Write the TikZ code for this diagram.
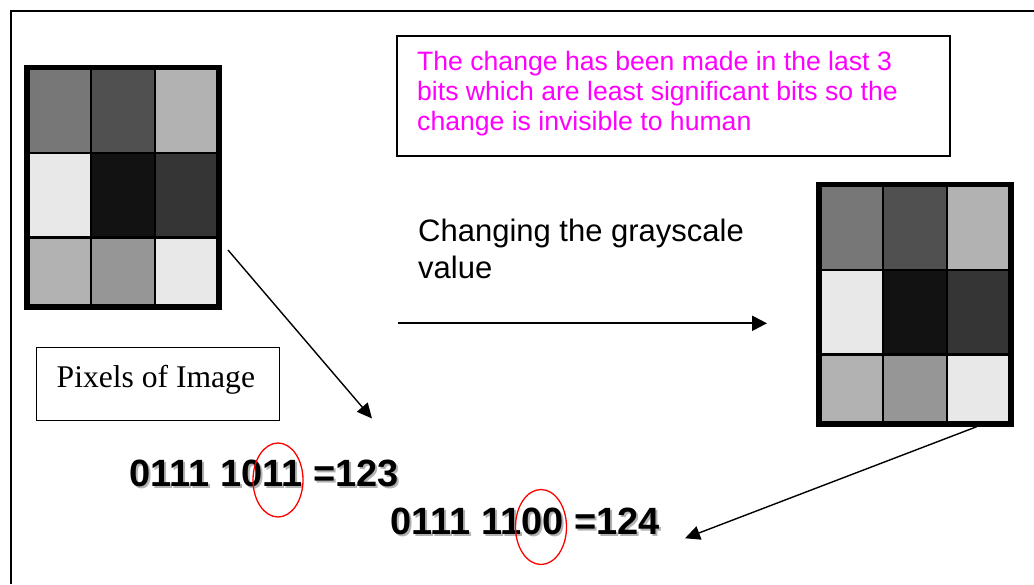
\documentclass[tikz,border=0pt]{standalone}
\usepackage{fontspec}
\setmainfont{Liberation Serif}
\newfontfamily\arialfont{Liberation Sans}
\usetikzlibrary{arrows.meta,shapes.geometric}
\definecolor{cA}{gray}{0.467}
\definecolor{cB}{gray}{0.314}
\definecolor{cC}{gray}{0.698}
\definecolor{cD}{gray}{0.91}
\definecolor{cE}{gray}{0.071}
\definecolor{cF}{gray}{0.208}
\definecolor{cG}{gray}{0.588}
\definecolor{pinktext}{RGB}{255,0,255}
\definecolor{shadowgray}{gray}{0.7}
\tikzset{
  gridframe/.style={fill=black, draw=none, inner sep=0pt, anchor=north west, minimum width=197.5pt, minimum height=245.5pt},
  boxed/.style={draw=black, line width=1.6pt},
  pinkline/.style={font=\arialfont\fontsize{26.6}{30}\selectfont, text=pinktext, anchor=base west, inner sep=0pt},
  bigline/.style={font=\arialfont\fontsize{31}{37}\selectfont, anchor=base west, inner sep=0pt},
  binline/.style={font=\arialfont\bfseries\fontsize{38}{40}\selectfont, anchor=base west, inner sep=0pt},
  binshadow/.style={binline, text=shadowgray},
  redoval/.style={draw=red, line width=1.3pt},
  conn/.style={draw=black, line width=1.4pt, -{Triangle[length=15pt,width=14pt]}},
  conn2/.style={draw=black, line width=2.2pt, -{Triangle[length=15pt,width=15pt]}},
}
\newcommand{\pixelcells}{%
  \fill[cA] (6,5.5) rectangle (65.6,87);
  \fill[cB] (68.2,5.5) rectangle (130,87);
  \fill[cC] (132.2,5.5) rectangle (192,87);
  \fill[cD] (6,89.5) rectangle (65.6,171.5);
  \fill[cE] (68.2,89.5) rectangle (130,171.5);
  \fill[cF] (132.2,89.5) rectangle (192,171.5);
  \fill[cC] (6,174) rectangle (65.6,239.5);
  \fill[cG] (68.2,174) rectangle (130,239.5);
  \fill[cD] (132.2,174) rectangle (192,239.5);
}
\begin{document}
\begin{tikzpicture}[x=1pt,y=-1pt]
\useasboundingbox (0,0) rectangle (1034,584);
\fill[white] (0,0) rectangle (1034,584);
% outer frame (top and left visible)
\draw[line width=2pt] (11,584) -- (11,10.5) -- (1034,10.5);

% left pixel grid
\node[gridframe] (lgrid) at (24,64.5) {};
\begin{scope}[shift={(lgrid.north west)}]
\pixelcells
\end{scope}

% right pixel grid
\node[gridframe] (rgrid) at (816,181.5) {};
\begin{scope}[shift={(rgrid.north west)}]
\pixelcells
\end{scope}

% pink note box
\node[boxed, inner sep=0pt, anchor=north west, minimum width=553pt, minimum height=120pt] (note) at (396,35) {};
\node[pinkline] (n1) at (417,70.5) {The change has been made in the last 3};
\node[pinkline] (n2) at (417,100.5) {bits which are least significant bits so the};
\node[pinkline] (n3) at (417,130.5) {change is invisible to human};

% changing label
\node[bigline] (c1) at (418,241.5) {Changing the grayscale};
\node[bigline] (c2) at (418,278.5) {value};

% pixels of image box
\node[boxed, line width=1.4pt, inner sep=0pt, anchor=north west, minimum width=243pt, minimum height=73pt] (pix) at (36,347) {};
\node[font=\fontsize{31.6}{36}\selectfont, anchor=base west, inner sep=0pt] (pixt) at (56.5,387) {Pixels of Image};

% binary values with shadow
\node[binshadow] (b1s) at (131.5,488.5) {0111 1011 =123};
\node[binline] (b1) at (129,486) {0111 1011 =123};
\node[binshadow] (b2s) at (392.5,536.5) {0111 1100 =124};
\node[binline] (b2) at (390,534) {0111 1100 =124};

% red ovals
\node[redoval, ellipse, inner sep=0pt, minimum width=50pt, minimum height=74pt] (o1) at (278,480) {};
\node[redoval, ellipse, inner sep=0pt, minimum width=51pt, minimum height=75pt] (o2) at (541,527) {};

% connectors
\coordinate (a1s) at (228,250);
\coordinate (a1e) at (372,418.5);
\coordinate (hs) at (398,323.3);
\coordinate (he) at (767,323.3);
\coordinate (a2s) at (976.7,426.7);
\coordinate (a2e) at (685,538.3);
\draw[conn] (a1s) -- (a1e);
\draw[conn2] (hs) -- (he);
\draw[conn] (a2s) -- (a2e);
\end{tikzpicture}
\end{document}
